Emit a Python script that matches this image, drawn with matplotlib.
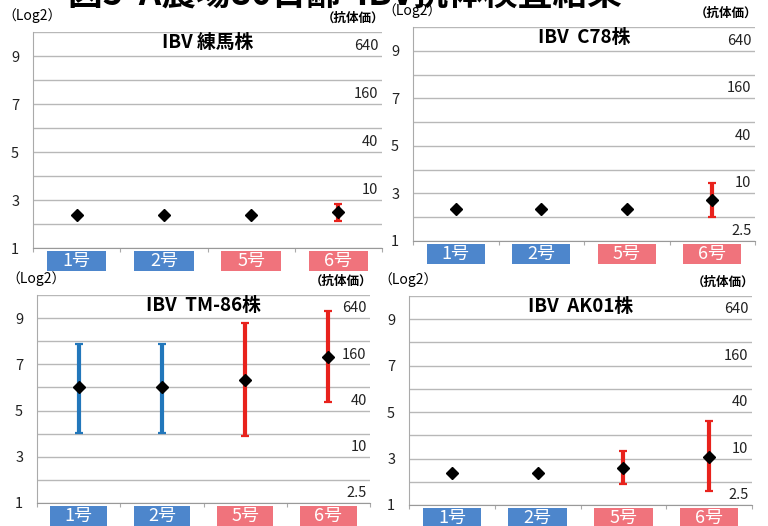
import numpy as np
import matplotlib
matplotlib.use("Agg")
import matplotlib.pyplot as plt
from matplotlib.patches import Rectangle
from matplotlib.transforms import blended_transform_factory

plt.rcParams['font.family'] = ['Noto Sans CJK JP', 'DejaVu Sans']

# データ（Log2 平均値と範囲）
categories = ['1号', '2号', '5号', '6号']
strains = ['IBV 練馬株', 'IBV  C78株', 'IBV  TM-86株', 'IBV  AK01株']

means_nerima = [2.38, 2.38, 2.38, 2.50]
low_nerima = [2.38, 2.38, 2.38, 2.13]
high_nerima = [2.38, 2.38, 2.38, 2.85]

means_c78 = [2.33, 2.33, 2.33, 2.71]
low_c78 = [2.33, 2.33, 2.33, 2.00]
high_c78 = [2.33, 2.33, 2.33, 3.46]

means_tm86 = [6.00, 6.00, 6.32, 7.30]
low_tm86 = [4.05, 4.05, 3.90, 5.35]
high_tm86 = [7.90, 7.90, 8.80, 9.30]

means_ak01 = [2.38, 2.38, 2.60, 3.07]
low_ak01 = [2.38, 2.38, 1.90, 1.60]
high_ak01 = [2.38, 2.38, 3.33, 4.60]

left_ticks = [1, 3, 5, 7, 9]
titer_labels = ['2.5', '10', '40', '160', '640']
titer_values = [2.5, 10, 40, 160, 640]

bar_colors = ['#2277bb', '#2277bb', '#e8221c', '#e8221c']
box_colors = ['#4d86cc', '#4d86cc', '#f0737c', '#f0737c']

W, H = 768, 526
fig = plt.figure(figsize=(W / 100, H / 100), dpi=100)

# 各パネルの位置 (left, top, right, bottom) ピクセル
rects = [(33, 32, 382, 248), (413, 27, 755, 241),
         (37, 295, 370, 503), (409, 296, 752, 505)]
panel_data = [(means_nerima, low_nerima, high_nerima, False),
              (means_c78, low_c78, high_c78, True),
              (means_tm86, low_tm86, high_tm86, True),
              (means_ak01, low_ak01, high_ak01, True)]

# タイトル（上端で切れている）
fig.text(345 / W, 1 - 5 / H, '図5  A農場80日齢  IBV抗体検査結果', ha='center',
         va='baseline', fontsize=25, fontweight='bold')

x = np.arange(len(categories))
for i, (r, (m, lo, hi, show25)) in enumerate(zip(rects, panel_data)):
    l, t, rr, b = r
    ax = fig.add_axes([l / W, 1 - b / H, (rr - l) / W, (b - t) / H])
    ax.set_xlim(-0.5, 3.5)
    ax.set_ylim(1, 10)
    ax.set_yticks(left_ticks)
    ax.set_yticks(np.arange(2, 11, 2), minor=True)
    ax.yaxis.grid(True, which='both', color='#b8b8b8', lw=1.0)
    ax.set_axisbelow(True)
    ax.tick_params(axis='y', which='both', length=0, pad=10, labelsize=10.5,
                   colors='#222222')
    ax.set_xticks(np.arange(-0.5, 4, 1))
    ax.set_xticklabels([])
    ax.tick_params(axis='x', length=3, color='#aaaaaa')
    for s in ['top', 'right']:
        ax.spines[s].set_visible(False)
    ax.spines['left'].set_color('#aaaaaa')
    ax.spines['bottom'].set_color('#999999')

    m = np.array(m)
    yerr = [m - np.array(lo), np.array(hi) - m]
    for j in range(len(categories)):
        _, caps, _ = ax.errorbar(x[j], m[j], yerr=[[yerr[0][j]], [yerr[1][j]]],
                                 fmt='none', ecolor=bar_colors[j], elinewidth=3,
                                 capsize=2.8, capthick=1.6, zorder=3)
        for c in caps:
            c.set_color('#333344')
    ax.plot(x, m, 'D', color='black', markersize=6.5, ls='none', zorder=4)

    ax.text(1.5, 9.55, strains[i], ha='center', va='center', fontsize=13.5,
            fontweight='bold')

    # 右側の抗体価ラベル
    trans = blended_transform_factory(ax.transAxes, ax.transData)
    for lab, v in zip(titer_labels, titer_values):
        if lab == '2.5' and not show25:
            continue
        ax.text(0.99, np.log2(v) + 0.1, lab, transform=trans, ha='right',
                va='center', fontsize=10.5, color='#222222')

    # カテゴリの色付きラベル
    hpx = b - t
    btr = blended_transform_factory(ax.transData, ax.transAxes)
    for j, cat in enumerate(categories):
        ax.add_patch(Rectangle((x[j] - 0.34, -23 / hpx), 0.68, 20 / hpx,
                               transform=btr, facecolor=box_colors[j],
                               edgecolor='none', clip_on=False))
        ax.text(x[j], -13 / hpx, cat, transform=btr, ha='center', va='center',
                color='white', fontsize=13)

    fig.text((l - 31) / W, 1 - (t - 16) / H, '（Log2）', ha='left', va='center',
             fontsize=10)
    fig.text((rr + 2) / W, 1 - (t - 14) / H, '（抗体価）', ha='right', va='center',
             fontsize=9, fontweight='bold')

fig.savefig('out.png', dpi=100)
